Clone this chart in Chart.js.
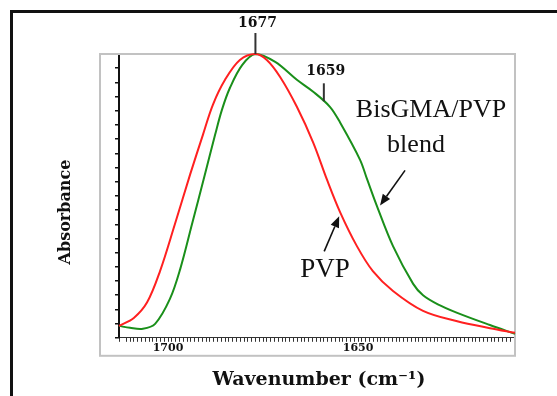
<!DOCTYPE html>
<html>
<head>
<meta charset="utf-8">
<script src="https://cdn.jsdelivr.net/npm/chart.js@4.4.0/dist/chart.umd.min.js"></script>
<style>
  html, body { margin: 0; padding: 0; background: #fff; }
  #wrap { position: relative; width: 557px; height: 396px; overflow: hidden; }
  #frame { position: absolute; left: 10px; top: 10px; right: -10px; bottom: -10px;
           border-left: 3px solid #111; border-top: 3px solid #111; }
  canvas { position: absolute; left: 0; top: 0; }
</style>
</head>
<body>
<div id="wrap">
  <div id="frame"></div>
  <canvas id="spectrum" width="557" height="396"></canvas>
</div>
<script>
// FTIR carbonyl region, wavenumber (cm-1) vs normalised absorbance
const pvpWave  = [1712.9, 1709.0, 1705.5, 1702.1, 1698.2, 1694.2, 1690.8, 1688.2, 1685.0, 1681.1, 1677.0, 1674.0,
                  1670.5, 1666.1, 1661.8, 1658.2, 1654.7, 1650.3, 1646.1, 1640.8, 1632.9, 1623.9, 1615.3, 1608.7];
const pvpAbs   = [0.042, 0.070, 0.125, 0.235, 0.400, 0.575, 0.716, 0.821, 0.909, 0.979, 1.000, 0.979,
                  0.919, 0.814, 0.688, 0.558, 0.442, 0.323, 0.235, 0.165, 0.095, 0.058, 0.034, 0.018];

const blendWave = [1712.9, 1710.0, 1706.6, 1703.4, 1699.5, 1696.8, 1693.7, 1690.3, 1687.6, 1685.8, 1683.7, 1680.5,
                   1677.0, 1671.8, 1666.1, 1661.8, 1657.4, 1654.7, 1649.5, 1647.6, 1645.0, 1640.8, 1635.5, 1632.9,
                   1629.0, 1623.9, 1615.3, 1608.7];
const blendAbs  = [0.042, 0.035, 0.032, 0.049, 0.137, 0.242, 0.400, 0.575, 0.716, 0.804, 0.881, 0.961,
                   1.000, 0.972, 0.909, 0.867, 0.814, 0.758, 0.628, 0.558, 0.463, 0.323, 0.190, 0.150,
                   0.118, 0.088, 0.045, 0.014];

const xTickLabels = [1700, 1650];
const peakLabels = [1677, 1659];

const toPoints = (xs, ys) => xs.map((x, i) => ({ x: x, y: ys[i] }));

// linear lookup of a curve's value at a given wavenumber
function valueAt(xs, ys, w) {
  for (let i = 0; i < xs.length - 1; i++) {
    const a = xs[i], b = xs[i + 1];
    if ((w <= a && w >= b) || (w >= a && w <= b)) {
      const t = (w - a) / (b - a);
      return ys[i] + t * (ys[i + 1] - ys[i]);
    }
  }
  return ys[ys.length - 1];
}

function arrow(ctx, x1, y1, x2, y2) {
  const ang = Math.atan2(y2 - y1, x2 - x1);
  const head = 11, half = 4.5;
  const bx = x2 - head * Math.cos(ang), by = y2 - head * Math.sin(ang);
  ctx.beginPath();
  ctx.moveTo(x1, y1);
  ctx.lineTo(bx, by);
  ctx.stroke();
  ctx.beginPath();
  ctx.moveTo(x2, y2);
  ctx.lineTo(bx + half * Math.sin(ang), by - half * Math.cos(ang));
  ctx.lineTo(bx - half * Math.sin(ang), by + half * Math.cos(ang));
  ctx.closePath();
  ctx.fill();
}

const annotate = {
  id: 'annotate',
  beforeDatasetsDraw(chart) {
    const { ctx, chartArea: a } = chart;
    ctx.save();
    ctx.strokeStyle = '#c2c2c2';
    ctx.lineWidth = 2;
    ctx.strokeRect(a.left - 19, a.top, a.right - a.left + 19, a.bottom - a.top + 18);
    ctx.restore();
  },
  afterDraw(chart) {
    const { ctx, chartArea: a, scales } = chart;
    const xs = scales.x, ys = scales.y;
    ctx.save();
    ctx.fillStyle = '#111';
    ctx.strokeStyle = '#222';

    // axis titles
    ctx.textAlign = 'center';
    ctx.textBaseline = 'middle';
    ctx.font = 'bold 19px "DejaVu Serif"';
    ctx.fillText('Wavenumber (cm\u207B\u00B9)', (a.left + a.right) / 2 + 2, 380);
    ctx.save();
    ctx.translate(66, 212);
    ctx.rotate(-Math.PI / 2);
    ctx.font = 'bold 16px "DejaVu Serif"';
    ctx.fillText('Absorbance', 0, 0);
    ctx.restore();

    // peak markers
    ctx.lineWidth = 2;
    ctx.strokeStyle = '#333';
    ctx.font = 'bold 14px "DejaVu Serif"';
    let px = xs.getPixelForValue(peakLabels[0]);
    let py = ys.getPixelForValue(valueAt(blendWave, blendAbs, peakLabels[0]));
    ctx.beginPath(); ctx.moveTo(px, 33); ctx.lineTo(px, py); ctx.stroke();
    ctx.fillText(String(peakLabels[0]), px + 2, 23);

    px = xs.getPixelForValue(peakLabels[1]);
    py = ys.getPixelForValue(valueAt(blendWave, blendAbs, peakLabels[1]));
    ctx.beginPath(); ctx.moveTo(px, py - 18); ctx.lineTo(px, py); ctx.stroke();
    ctx.fillText(String(peakLabels[1]), px + 2, py - 30);

    // curve names
    ctx.font = '26px "Liberation Serif"';
    ctx.fillText('BisGMA/PVP', 431, 110);
    ctx.fillText('blend', 416, 145);
    ctx.font = '27px "Liberation Serif"';
    ctx.fillText('PVP', 325, 270);

    // arrows to the curves
    ctx.strokeStyle = '#111';
    ctx.lineWidth = 1.6;
    let tx = xs.getPixelForValue(1645.0) + 3;
    let ty = ys.getPixelForValue(valueAt(blendWave, blendAbs, 1645.0)) - 1;
    arrow(ctx, tx + 25, ty - 35, tx, ty);
    tx = xs.getPixelForValue(1654.7) - 1;
    ty = ys.getPixelForValue(valueAt(pvpWave, pvpAbs, 1654.7)) + 4;
    arrow(ctx, tx - 15, ty + 35, tx, ty);

    ctx.restore();
  }
};

new Chart(document.getElementById('spectrum'), {
  type: 'line',
  data: {
    datasets: [
      {
        label: 'PVP',
        data: toPoints(pvpWave, pvpAbs),
        borderColor: '#ff2020',
        borderWidth: 2,
        pointRadius: 0,
        tension: 0.35,
        clip: false
      },
      {
        label: 'BisGMA/PVP blend',
        data: toPoints(blendWave, blendAbs),
        borderColor: '#1a8f1a',
        borderWidth: 2,
        pointRadius: 0,
        tension: 0.35,
        clip: false
      }
    ]
  },
  options: {
    responsive: false,
    animation: false,
    layout: { padding: { left: 115, top: 54, right: 42, bottom: 41 } },
    plugins: { legend: { display: false }, tooltip: { enabled: false } },
    scales: {
      x: {
        type: 'linear',
        reverse: true,
        min: 1608.7,
        max: 1712.9,
        grid: { drawOnChartArea: false, tickLength: 4, tickColor: '#333', lineWidth: 1 },
        border: { color: '#333', width: 1 },
        ticks: {
          stepSize: 1,
          maxTicksLimit: 200,
          autoSkip: false,
          maxRotation: 0,
          padding: 0,
          color: '#111',
          font: { family: 'DejaVu Serif', weight: 'bold', size: 11 },
          callback: (v) => xTickLabels.includes(v) ? String(v) : ''
        }
      },
      y: {
        min: 0,
        max: 1,
        grid: { drawOnChartArea: false, tickLength: 4, tickColor: '#111', lineWidth: 1.5 },
        border: { color: '#111', width: 2 },
        ticks: { stepSize: 0.05, display: false }
      }
    }
  },
  plugins: [annotate]
});
</script>
</body>
</html>
